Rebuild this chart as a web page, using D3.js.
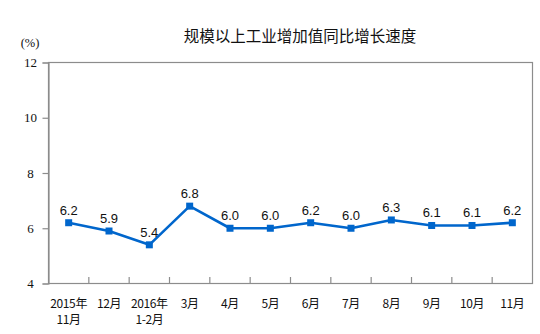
<!DOCTYPE html>
<html>
<head>
<meta charset="utf-8">
<script src="https://cdn.jsdelivr.net/npm/d3@7"></script>
<style>
  html, body { margin: 0; padding: 0; background: #fff; }
  svg { display: block; }
</style>
</head>
<body>
<svg id="chart" width="540" height="334"></svg>
<script>
// Monthly growth of industrial value added (%)
const categories = [
  ["2015年", "11月"], ["12月"], ["2016年", "1-2月"], ["3月"], ["4月"], ["5月"],
  ["6月"], ["7月"], ["8月"], ["9月"], ["10月"], ["11月"]
];
const values = [6.2, 5.9, 5.4, 6.8, 6.0, 6.0, 6.2, 6.0, 6.3, 6.1, 6.1, 6.2];
const yTicks = [4, 6, 8, 10, 12];
const title = "规模以上工业增加值同比增长速度";
const unit = "(%)";

const svg = d3.select("#chart");
const margin = { left: 48.5, right: 7.5, top: 62.5, bottom: 50.5 };
const W = 540, H = 334;
const x0 = margin.left, x1 = W - margin.right;
const y0 = H - margin.bottom, y1 = margin.top;

const x = d3.scaleBand().domain(d3.range(categories.length)).range([x0, x1]);
const y = d3.scaleLinear().domain([4, 12]).range([y0, y1]);

const axisColor = "#8c8c8c";
const lineColor = "#0066cc";

// Title
svg.append("text")
  .attr("x", 300).attr("y", 42)
  .attr("text-anchor", "middle")
  .attr("font-family", "'Noto Sans CJK SC', sans-serif")
  .attr("font-size", 15.5)
  .attr("fill", "#111")
  .text(title);

// Unit label
svg.append("text")
  .attr("x", 30).attr("y", 47)
  .attr("text-anchor", "middle")
  .attr("font-family", "'Liberation Serif', serif")
  .attr("font-size", 12.5)
  .attr("fill", "#111")
  .text(unit);

// Plot frame
svg.append("rect")
  .attr("x", x0).attr("y", y1)
  .attr("width", x1 - x0).attr("height", y0 - y1)
  .attr("fill", "none")
  .attr("stroke", axisColor)
  .attr("stroke-width", 1.2);

// Y axis
const yAxis = svg.append("g")
  .attr("transform", `translate(${x0},0)`)
  .call(d3.axisLeft(y).tickValues(yTicks).tickSize(6).tickPadding(10).tickFormat(d3.format("d")));
yAxis.select(".domain").attr("stroke", axisColor).attr("stroke-width", 1.2);
yAxis.selectAll(".tick line").attr("stroke", axisColor).attr("stroke-width", 1.2);
yAxis.selectAll(".tick text")
  .attr("font-family", "'Liberation Serif', serif")
  .attr("font-size", 13)
  .attr("fill", "#111")
  .attr("text-anchor", "middle")
  .attr("x", -18);

// X axis: inward ticks at band boundaries
const bounds = d3.range(1, categories.length).map(i => x(i));
svg.append("g").selectAll("line")
  .data(bounds).join("line")
  .attr("x1", d => d).attr("x2", d => d)
  .attr("y1", y0).attr("y2", y0 - 6.5)
  .attr("stroke", axisColor).attr("stroke-width", 1.2);
svg.append("line")
  .attr("x1", x0).attr("x2", x1).attr("y1", y0).attr("y2", y0)
  .attr("stroke", axisColor).attr("stroke-width", 1.2);

// X labels
const xl = svg.append("g")
  .attr("font-family", "'Noto Sans CJK SC', sans-serif")
  .attr("font-size", 12)
  .attr("letter-spacing", -0.4)
  .attr("fill", "#111")
  .attr("text-anchor", "middle");
categories.forEach((lines, i) => {
  const cx = x(i) + x.bandwidth() / 2;
  lines.forEach((t, j) => {
    xl.append("text")
      .attr("x", cx).attr("y", 308 + j * 15.5)
      .text(t);
  });
});

// Line
const cx = (d, i) => x(i) + x.bandwidth() / 2;
svg.append("path")
  .datum(values)
  .attr("fill", "none")
  .attr("stroke", lineColor)
  .attr("stroke-width", 2.6)
  .attr("stroke-linejoin", "round")
  .attr("d", d3.line().x(cx).y(d => y(d)));

// Markers
svg.append("g").selectAll("rect")
  .data(values).join("rect")
  .attr("x", (d, i) => cx(d, i) - 3.5)
  .attr("y", d => y(d) - 3.5)
  .attr("width", 7).attr("height", 7)
  .attr("fill", lineColor);

// Value labels
svg.append("g").selectAll("text")
  .data(values).join("text")
  .attr("x", cx)
  .attr("y", d => y(d) - 8)
  .attr("text-anchor", "middle")
  .attr("font-family", "'Liberation Sans', Arial, sans-serif")
  .attr("font-size", 13)
  .attr("fill", "#111")
  .text(d => d.toFixed(1));
</script>
</body>
</html>
